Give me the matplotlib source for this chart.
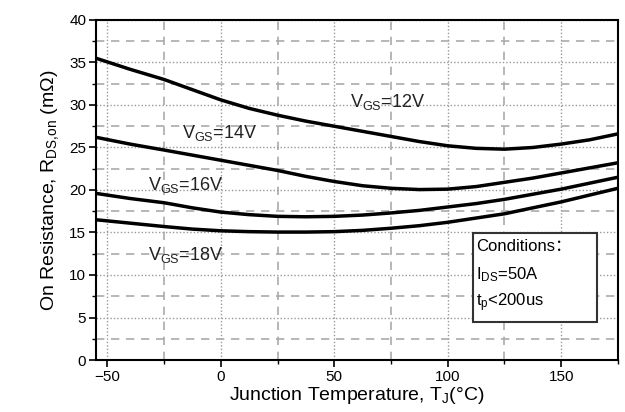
import numpy as np
import matplotlib
matplotlib.use("Agg")
import matplotlib.pyplot as plt
from matplotlib.patches import Rectangle
from matplotlib.ticker import MultipleLocator

plt.rcParams['font.family'] = ['Liberation Sans', 'Noto Sans CJK SC', 'DejaVu Sans']
plt.rcParams['mathtext.fontset'] = 'custom'
plt.rcParams['mathtext.rm'] = 'Liberation Sans'
plt.rcParams['mathtext.it'] = 'Liberation Sans'

# junction temperature (°C) and R_DS,on (mOhm)
temp = [-55, -40, -25, -12.5, 0, 12.5, 25, 37.5, 50, 62.5, 75, 87.5,
        100, 112.5, 125, 137.5, 150, 162.5, 175]
r_12v = [35.5, 34.2, 33.0, 31.8, 30.6, 29.6, 28.8, 28.1, 27.5, 26.9, 26.3, 25.7,
         25.2, 24.9, 24.8, 25.0, 25.4, 25.9, 26.6]
r_14v = [26.2, 25.4, 24.7, 24.1, 23.5, 22.9, 22.3, 21.6, 21.0, 20.5, 20.2, 20.05,
         20.1, 20.4, 20.9, 21.4, 22.0, 22.6, 23.2]
r_16v = [19.6, 19.0, 18.5, 17.9, 17.4, 17.1, 16.9, 16.85, 16.9, 17.05, 17.3, 17.6,
         18.0, 18.4, 18.9, 19.5, 20.1, 20.8, 21.5]
r_18v = [16.5, 16.1, 15.7, 15.4, 15.2, 15.1, 15.05, 15.05, 15.1, 15.25, 15.5, 15.8,
         16.2, 16.7, 17.2, 17.9, 18.6, 19.4, 20.2]

curves = [r_12v, r_14v, r_16v, r_18v]
labels = ['V$_{\\mathrm{GS}}$=12V', 'V$_{\\mathrm{GS}}$=14V',
          'V$_{\\mathrm{GS}}$=16V', 'V$_{\\mathrm{GS}}$=18V']
label_pos = [(57, 30.4), (-17, 26.7), (-32, 20.6), (-32, 12.4)]

fig = plt.figure(figsize=(6.25, 4.12), dpi=100)
ax = fig.add_axes([0.1536, 0.1262, 0.835, 0.8253])

for r in curves:
    ax.plot(temp, r, color='black', linewidth=2.5, zorder=3,
            solid_joinstyle='round')

for txt, (x, y) in zip(labels, label_pos):
    ax.text(x, y, txt, fontsize=13, va='center', ha='left', color='#222222', zorder=4)

ax.set_xlim(-55, 175)
ax.set_ylim(0, 40)
ax.xaxis.set_major_locator(MultipleLocator(50))
ax.xaxis.set_minor_locator(MultipleLocator(25))
ax.yaxis.set_major_locator(MultipleLocator(5))
ax.yaxis.set_minor_locator(MultipleLocator(2.5))

ax.grid(which='major', color='#999999', linestyle=(0, (1, 1.5)), linewidth=1.0)
ax.grid(which='minor', color='#aaaaaa', linestyle=(0, (5, 4)), linewidth=1.2)

ax.tick_params(which='major', direction='out', length=5, width=1.2, labelsize=11, pad=2)
ax.tick_params(which='minor', direction='out', length=3, width=1.0)
for s in ax.spines.values():
    s.set_linewidth(1.5)

ax.set_xlabel('Junction Temperature, T$_{\\mathrm{J}}$(°C)', fontsize=14, labelpad=1)
ax.set_ylabel('On Resistance, R$_{\\mathrm{DS{,}on}}$ (m$\\Omega$)', fontsize=14, labelpad=6)

# conditions box
ax.add_patch(Rectangle((111.2, 4.5), 54.7, 10.4, facecolor='white',
                       edgecolor='#333333', linewidth=1.5, zorder=4))
ax.text(112.6, 13.3, 'Conditions：', fontsize=12, va='center', zorder=5)
ax.text(112.6, 10.0, 'I$_{\\mathrm{DS}}$=50A', fontsize=12, va='center', zorder=5)
ax.text(112.6, 6.8, 't$_{\\mathrm{p}}$<200us', fontsize=12, va='center', zorder=5)

fig.savefig('out.png', dpi=100)
